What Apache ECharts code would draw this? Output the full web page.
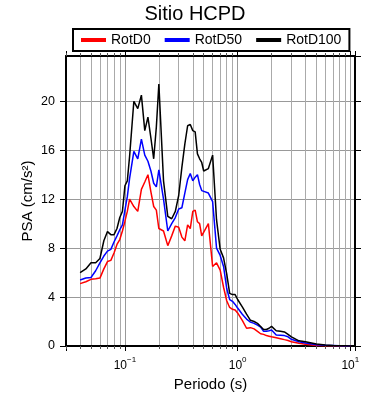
<!DOCTYPE html>
<html>
<head>
<meta charset="utf-8">
<script src="https://cdn.jsdelivr.net/npm/echarts@6/dist/echarts.min.js"></script>
<style>
html,body{margin:0;padding:0;background:#fff;}
#chart{width:390px;height:400px;}
</style>
</head>
<body>
<div id="chart"></div>
<script>
var periods = [0.04,0.045,0.05,0.055,0.06,0.065,0.07,0.075,0.08,0.085,0.09,0.095,
	0.1,0.105,0.11,0.12,0.13,0.14,0.15,0.16,0.17,0.18,0.19,0.2,0.22,0.24,0.26,0.28,0.3,
	0.32,0.34,0.36,0.38,0.4,0.42,0.44,0.46,0.48,0.5,0.55,0.6,0.65,0.7,0.75,0.8,0.85,0.9,0.95,
	1.0,1.1,1.2,1.3,1.4,1.5,1.6,1.7,1.8,1.9,2.0,2.2,2.4,2.6,2.8,3.0,3.5,4.0,5.0,6.0,7.0,8.0,9.0,10.0];

var rotD0 = [5.1,5.25,5.45,5.5,5.55,6.3,6.9,7.0,7.6,8.3,8.7,9.4,
	10.2,11.0,12.0,11.4,11.0,12.8,13.4,14.0,12.6,11.4,11.1,9.6,9.4,8.2,9.0,9.8,9.7,
	8.9,8.6,9.9,9.6,11.0,11.1,10.15,10.0,9.0,9.1,10.0,6.5,6.8,6.2,4.8,3.7,3.15,3.0,2.95,
	2.7,2.1,1.45,1.5,1.4,1.2,1.0,0.95,0.85,0.8,0.75,0.68,0.6,0.52,0.45,0.35,0.22,0.15,0.05,0.03,0.02,0.01,0.01,0.01];

var rotD50 = [5.4,5.55,5.6,6.15,6.8,7.35,7.75,7.9,8.5,9.0,9.5,9.9,
	11.1,12.2,13.7,15.9,15.3,16.9,15.6,15.1,14.3,13.3,13.0,14.4,12.0,9.4,10.0,10.5,11.2,
	11.3,12.5,13.6,14.1,13.5,13.8,14.0,13.2,12.7,12.8,12.5,11.8,8.0,7.4,6.5,4.7,3.8,3.65,3.4,
	3.1,2.6,2.2,1.95,1.85,1.7,1.55,1.2,1.2,1.25,1.3,0.9,0.88,0.85,0.75,0.55,0.35,0.24,0.1,0.06,0.04,0.02,0.01,0.01];

var rotD100 = [6.0,6.3,6.8,6.8,7.15,8.6,9.35,9.1,9.1,9.6,10.5,11.0,
	13.1,13.5,15.5,20.0,19.4,20.5,17.6,18.7,17.0,15.3,17.9,21.4,13.5,10.6,10.4,11.0,12.3,
	14.6,16.5,18.0,18.1,17.6,17.5,15.7,15.3,15.0,14.3,14.5,15.6,10.3,7.9,7.2,5.9,4.3,4.2,4.2,
	3.8,3.2,2.6,2.1,2.0,1.85,1.6,1.35,1.35,1.45,1.6,1.25,1.2,1.15,0.95,0.75,0.42,0.35,0.17,0.09,0.05,0.03,0.02,0.01];

var seriesNames = ['RotD0','RotD50','RotD100'];
var seriesColors = ['#ff0000','#0000ff','#000000'];
var seriesValues = [rotD0, rotD50, rotD100];

var FONT = 'Liberation Sans';

function pairs(vals){
	var out = [];
	for(var i=0;i<periods.length;i++){
		out.push([periods[i], vals[i]]);
	}
	return out;
}

// only label exact powers of ten, as 10 with a raised exponent
function powLabel(v){
	var e = Math.log(v)/Math.LN10;
	var r = Math.round(e);
	if(Math.abs(e-r) > 1e-6){return '';}
	return '{b|10}{s|' + (r<0 ? '\u2212'+(-r) : r) + '}';
}

var frameLine = {show:true, onZero:false, lineStyle:{color:'#000', width:2}};

var series = [];
for(var k=0;k<seriesNames.length;k++){
	series.push({
		name:seriesNames[k],
		type:'line',
		data:pairs(seriesValues[k]),
		showSymbol:false,
		symbol:'none',
		lineStyle:{color:seriesColors[k], width:1.5},
		itemStyle:{color:seriesColors[k]},
		z:3+k
	});
}

var option = {
	animation:false,
	backgroundColor:'#fff',
	textStyle:{fontFamily:FONT},
	title:{
		text:'Sitio HCPD',
		left:'center',
		top:4,
		padding:0,
		textStyle:{fontFamily:FONT, fontSize:20, fontWeight:'normal', color:'#000'}
	},
	legend:{
		data:seriesNames,
		left:73,
		top:29,
		padding:[4,8],
		itemGap:14,
		itemWidth:25,
		itemHeight:4,
		icon:'rect',
		borderColor:'#000',
		borderWidth:2,
		borderRadius:0,
		backgroundColor:'#fff',
		textStyle:{fontFamily:FONT, fontSize:14, color:'#000'}
	},
	grid:{
		left:66,
		top:56,
		width:289,
		height:290,
		outerBoundsMode:'none',
		containLabel:false
	},
	xAxis:[
		{
			type:'log',
			logBase:10,
			min:0.03,
			max:11,
			position:'bottom',
			name:'Periodo (s)',
			nameLocation:'middle',
			nameGap:30,
			nameTextStyle:{fontFamily:FONT, fontSize:15, color:'#000'},
			axisLine:frameLine,
			axisTick:{show:true, length:5, lineStyle:{color:'#000', width:1}},
			minorTick:{show:true, splitNumber:9, length:3, lineStyle:{color:'#555', width:1}},
			splitLine:{show:true, lineStyle:{color:'#999', width:1}},
			minorSplitLine:{show:true, lineStyle:{color:'#aaa', width:1}},
			axisLabel:{
				margin:10,
				showMinLabel:false,
				showMaxLabel:false,
				formatter:powLabel,
				rich:{
					b:{fontFamily:FONT, fontSize:12, color:'#000', lineHeight:16, verticalAlign:'bottom'},
					s:{fontFamily:FONT, fontSize:8, color:'#000', lineHeight:10, verticalAlign:'top'}
				}
			}
		},
		{
			type:'log',
			logBase:10,
			min:0.03,
			max:11,
			position:'top',
			axisLine:frameLine,
			axisTick:{show:true, length:5, lineStyle:{color:'#000', width:1}},
			minorTick:{show:true, splitNumber:9, length:3, lineStyle:{color:'#555', width:1}},
			splitLine:{show:false},
			axisLabel:{show:false}
		}
	],
	yAxis:[
		{
			type:'value',
			min:0,
			max:23.7,
			interval:4,
			position:'left',
			name:'PSA (cm/s²)',
			nameLocation:'middle',
			nameGap:31,
			nameMoveOverlap:false,
			nameTextStyle:{fontFamily:FONT, fontSize:15, color:'#000'},
			axisLine:frameLine,
			axisTick:{show:true, length:6, lineStyle:{color:'#000', width:1}},
			splitLine:{show:true, lineStyle:{color:'#999', width:1}},
			axisLabel:{margin:11, showMaxLabel:false, fontFamily:FONT, fontSize:12.5, color:'#000'}
		},
		{
			type:'value',
			min:0,
			max:23.7,
			interval:4,
			position:'right',
			axisLine:frameLine,
			axisTick:{show:true, length:6, lineStyle:{color:'#000', width:1}},
			splitLine:{show:false},
			axisLabel:{show:false}
		}
	],
	series:series
};

var chart = echarts.init(document.getElementById('chart'), null, {renderer:'canvas'});
chart.setOption(option);
</script>
</body>
</html>
